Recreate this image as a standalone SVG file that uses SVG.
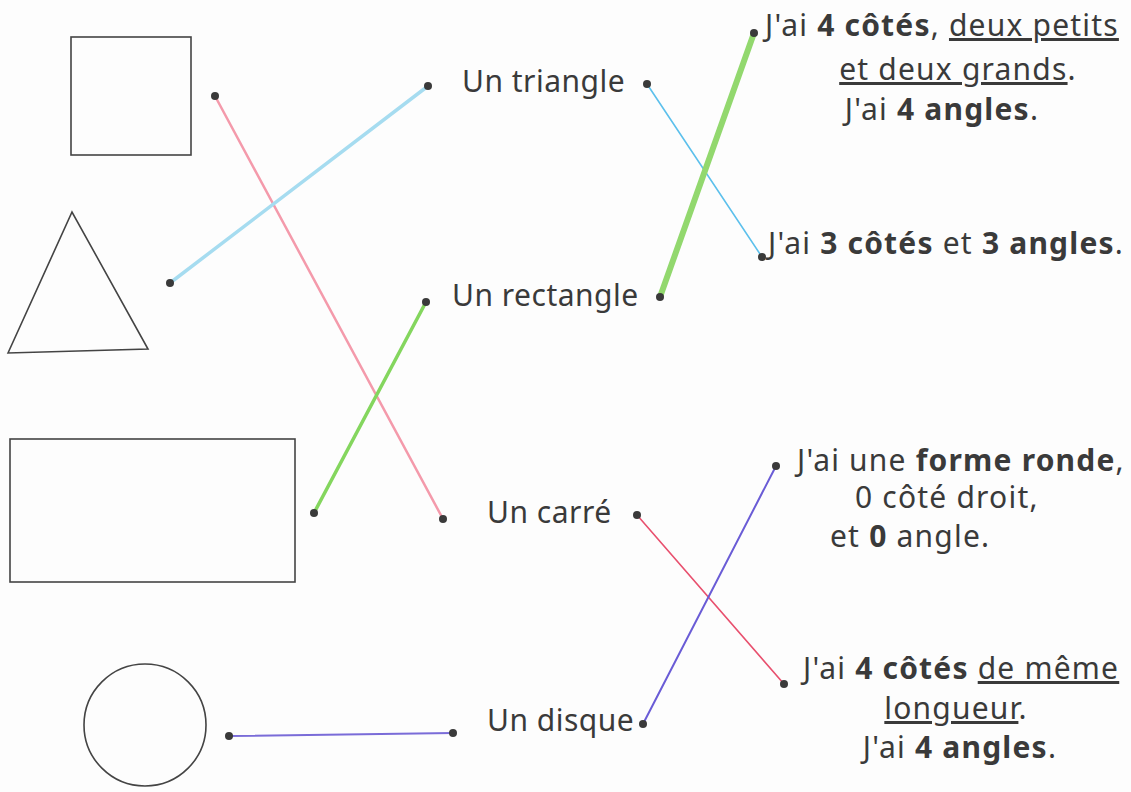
<svg xmlns="http://www.w3.org/2000/svg" width="1131" height="792" viewBox="0 0 1131 792">
<style>
.shape{fill:none;stroke:#444;stroke-width:1.6}
.dot{fill:#3a3a3a}
text{font-family:"Noto Sans","DejaVu Sans",sans-serif;font-size:30px;fill:#3a3a3a}
.m{letter-spacing:0.5px}
.r{letter-spacing:1.2px}
.b{font-weight:bold}
.u{text-decoration:underline}
.c{text-anchor:middle}
line{stroke-linecap:round}
</style>
<rect width="1131" height="792" fill="#fdfdfd"/>
<g id="connectors">
<line x1="215" y1="96" x2="443" y2="519" stroke="#f49aab" stroke-width="2.5"/>
<line x1="170" y1="283" x2="428" y2="86" stroke="#a6dcf0" stroke-width="3.5"/>
<line x1="314" y1="513" x2="426" y2="302" stroke="#84d65e" stroke-width="3.5"/>
<line x1="229" y1="736" x2="453" y2="733" stroke="#7a6cd8" stroke-width="2"/>
<line x1="647" y1="84" x2="762" y2="257" stroke="#5cc0ec" stroke-width="1.6"/>
<line x1="660" y1="297" x2="754" y2="33" stroke="#92d86e" stroke-width="6"/>
<line x1="637" y1="515" x2="784" y2="684" stroke="#e8506e" stroke-width="1.6"/>
<line x1="643" y1="724" x2="776" y2="466" stroke="#6a5cd6" stroke-width="2"/>
</g>
<g id="square"><rect class="shape" x="71" y="37" width="120" height="118"/><circle class="dot" cx="215" cy="96" r="4"/></g>
<g id="triangle"><polygon class="shape" points="8,353 72,212 148,349"/><circle class="dot" cx="170" cy="283" r="4"/></g>
<g id="rectangle"><rect class="shape" x="10" y="439" width="285" height="143"/><circle class="dot" cx="314" cy="513" r="4"/></g>
<g id="circle"><circle class="shape" cx="145" cy="725" r="61"/><circle class="dot" cx="229" cy="736" r="4"/></g>
<g id="name-triangle"><circle class="dot" cx="428" cy="86" r="4"/><text class="m" x="462" y="92">Un triangle</text><circle class="dot" cx="647" cy="84" r="4"/></g>
<g id="name-rectangle"><circle class="dot" cx="426" cy="302" r="4"/><text class="m" x="452" y="306">Un rectangle</text><circle class="dot" cx="660" cy="297" r="4"/></g>
<g id="name-carre"><circle class="dot" cx="443" cy="519" r="4"/><text class="m" x="487" y="523">Un carré</text><circle class="dot" cx="637" cy="515" r="4"/></g>
<g id="name-disque"><circle class="dot" cx="453" cy="733" r="4"/><text class="m" x="487" y="731">Un disque</text><circle class="dot" cx="643" cy="724" r="4"/></g>
<g id="desc-rectangle"><circle class="dot" cx="754" cy="33" r="4"/>
<text class="r" x="765" y="36">J'ai <tspan class="b">4 côtés</tspan>, <tspan class="u">deux petits</tspan></text>
<text class="r c" x="958" y="80"><tspan class="u">et deux grands</tspan>.</text>
<text class="r c" x="942" y="120">J'ai <tspan class="b">4 angles</tspan>.</text></g>
<g id="desc-triangle"><circle class="dot" cx="762" cy="257" r="4"/>
<text class="r" x="768" y="254">J'ai <tspan class="b">3 côtés</tspan> et <tspan class="b">3 angles</tspan>.</text></g>
<g id="desc-disque"><circle class="dot" cx="776" cy="466" r="4"/>
<text class="r" x="797" y="471">J'ai une <tspan class="b">forme ronde</tspan>,</text>
<text class="r" x="855" y="508">0 côté droit,</text>
<text class="r" x="830" y="547">et <tspan class="b">0</tspan> angle.</text></g>
<g id="desc-carre"><circle class="dot" cx="784" cy="684" r="4"/>
<text class="r" x="803" y="679">J'ai <tspan class="b">4 côtés</tspan> <tspan class="u">de même</tspan></text>
<text class="r c" x="956" y="719"><tspan class="u">longueur</tspan>.</text>
<text class="r c" x="960" y="758">J'ai <tspan class="b">4 angles</tspan>.</text></g>
</svg>
